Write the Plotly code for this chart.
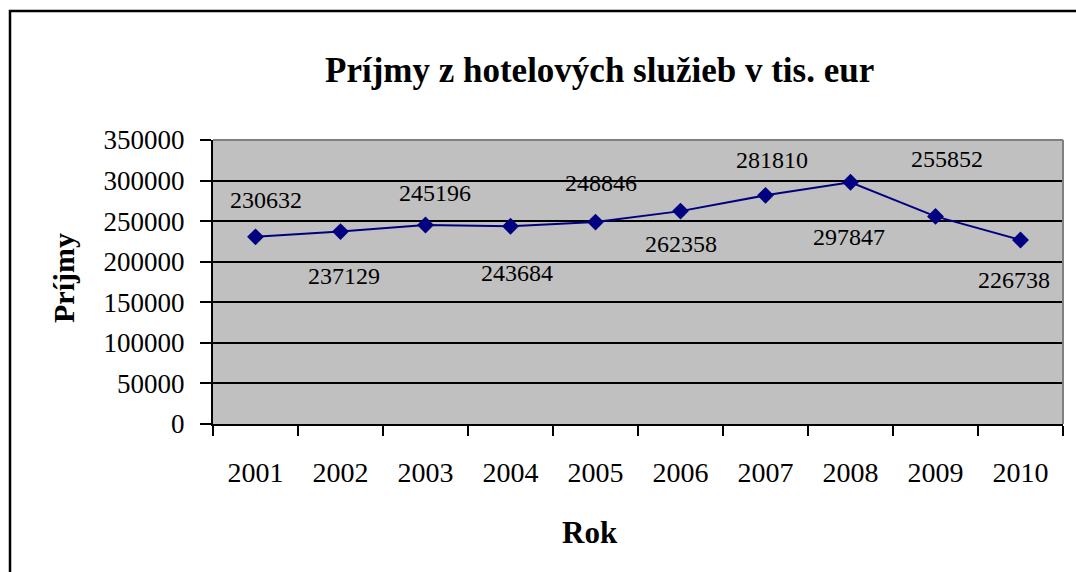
import plotly.graph_objects as go

years = ["2001", "2002", "2003", "2004", "2005", "2006", "2007", "2008", "2009", "2010"]
prijmy = [230632, 237129, 245196, 243684, 248846, 262358, 281810, 297847, 255852, 226738]
y_ticks = [0, 50000, 100000, 150000, 200000, 250000, 300000, 350000]

title_text = "Príjmy z hotelových služieb v tis. eur"
x_title = "Rok"
y_title = "Príjmy"

# label placement tweaks (pixels): (dx, dy) with dy positive = up
label_offsets = [(10, 37), (3, -44), (9, 32), (6, -47), (5, 39),
                 (0, -33), (6, 35), (-2, -55), (11, 57), (-7, -40)]

FONT = "Liberation Serif, Times New Roman, serif"
NAVY = "#000080"

W, H = 1076, 572
ML, MR, MT, MB = 213, 13, 140, 148
PW = W - ML - MR
PH = H - MT - MB


def px_x(p):
    return (p - ML) / PW


def px_y(p):
    return (H - MB - p) / PH


fig = go.Figure()
fig.add_trace(go.Scatter(
    x=years, y=prijmy, mode="lines+markers",
    line=dict(color=NAVY, width=2),
    marker=dict(symbol="diamond", size=13, color=NAVY),
    hoverinfo="x+y", showlegend=False,
))

annotations = []
for i, (v, (dx, dy)) in enumerate(zip(prijmy, label_offsets)):
    annotations.append(dict(
        x=i, y=v, xref="x", yref="y", text=str(v), showarrow=False,
        xanchor="center", yanchor="middle",
        xshift=dx, yshift=dy, font=dict(family=FONT, size=24, color="black"),
    ))

annotations.append(dict(
    x=px_x(599), y=px_y(70), xref="paper", yref="paper", text="<b>" + title_text + "</b>",
    showarrow=False, xanchor="center", yanchor="middle",
    font=dict(family=FONT, size=35, color="black"),
))
annotations.append(dict(
    x=px_x(590), y=px_y(532), xref="paper", yref="paper", text="<b>" + x_title + "</b>",
    showarrow=False, xanchor="center", yanchor="middle",
    font=dict(family=FONT, size=31, color="black"),
))
annotations.append(dict(
    x=px_x(63), y=px_y(278), xref="paper", yref="paper", text="<b>" + y_title + "</b>",
    showarrow=False, xanchor="center", yanchor="middle", textangle=-90,
    font=dict(family=FONT, size=30, color="black"),
))

shapes = [
    # outer chart border
    dict(type="rect", xref="paper", yref="paper",
         x0=px_x(10), x1=1.2, y0=-1.0, y1=px_y(11),
         line=dict(color="black", width=2.5), fillcolor="rgba(0,0,0,0)", layer="below"),
    # plot-area top and right borders (gray)
    dict(type="line", xref="paper", yref="paper", x0=0, x1=1, y0=1, y1=1,
         line=dict(color="#808080", width=2), layer="above"),
    dict(type="line", xref="paper", yref="paper", x0=1, x1=1, y0=0, y1=1,
         line=dict(color="#808080", width=2), layer="above"),
]

fig.update_layout(
    width=W, height=H,
    margin=dict(l=ML, r=MR, t=MT, b=MB, pad=0),
    paper_bgcolor="white", plot_bgcolor="#C0C0C0",
    font=dict(family=FONT, color="black"),
    annotations=annotations, shapes=shapes,
    showlegend=False,
)
fig.update_xaxes(
    type="category", range=[-0.5, 9.5], tickson="boundaries",
    ticks="outside", ticklen=10, tickwidth=2, tickcolor="black",
    showline=True, linecolor="black", linewidth=2,
    showgrid=False, zeroline=False,
    tickfont=dict(family=FONT, size=28, color="black"),
    ticklabelstandoff=22, fixedrange=True,
)
fig.update_yaxes(
    range=[0, 350000], tickvals=y_ticks, ticktext=[str(t) for t in y_ticks],
    ticks="outside", ticklen=11, tickwidth=2, tickcolor="black",
    showline=True, linecolor="black", linewidth=2,
    showgrid=True, gridcolor="black", gridwidth=2, zeroline=False,
    tickfont=dict(family=FONT, size=27, color="black"),
    ticklabelstandoff=10, fixedrange=True,
)

fig.write_html(
    "out.html",
    config={"displayModeBar": False},
    post_script="document.body.style.margin='0';document.body.style.overflow='hidden';",
)
